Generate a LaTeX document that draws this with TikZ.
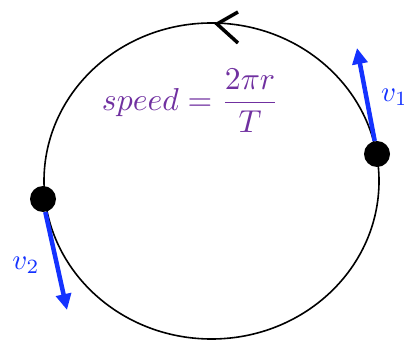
\documentclass[tikz,border=0pt]{standalone}
\usepackage{graphicx}
\usetikzlibrary{arrows.meta}
\definecolor{vpurple}{RGB}{112,48,160}
\definecolor{vblue}{RGB}{20,50,255}
\begin{document}
\begin{tikzpicture}[x=1pt,y=1pt,
  dot/.style={circle,fill=black,inner sep=0pt,minimum size=26pt},
  vel/.style={draw=vblue,line width=4.5pt,-{Triangle[length=16pt,width=15pt]}},
  vlabel/.style={text=vblue,inner sep=0pt}]
\useasboundingbox (0,0) rectangle (404,340);
\clip (0,0) rectangle (404,340);
\draw[line width=1.6pt] (211.5,159) ellipse [x radius=167.5, y radius=158];
\coordinate (cA) at (238,328);
\coordinate (cB) at (217,316);
\coordinate (cC) at (238,297);
\draw[line width=3.5pt] (cA) -- (cB) -- (cC);
\node[dot] (p1) at (377,186) {};
\node[dot] (p2) at (43,141) {};
\coordinate (t1) at (357,292);
\coordinate (t2) at (67,30);
\draw[vel] (p1.100) -- (t1);
\draw[vel] (p2.280) -- (t2);
\node[vlabel,anchor=west] (l1) at (381,243) {\resizebox{27pt}{!}{$v_1$}};
\node[vlabel] (l2) at (26,75) {\resizebox{27pt}{!}{$v_2$}};
\node[text=vpurple,inner sep=0pt] (f) at (190.5,239.5) {\resizebox{177pt}{!}{$\displaystyle speed=\frac{2\pi r}{T}$}};
\end{tikzpicture}
\end{document}
